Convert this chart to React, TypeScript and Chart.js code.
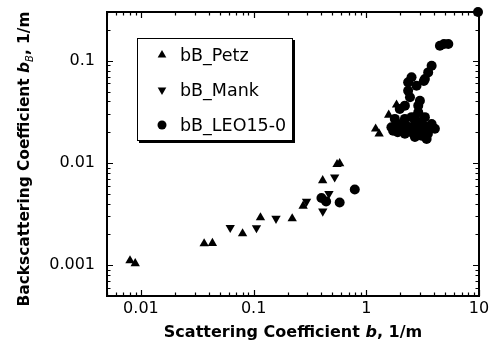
import { useEffect, useRef } from 'react';
import { Chart, registerables } from 'chart.js';

Chart.register(...registerables);

// ---- data ----
const seriesLabels = ['bB_Petz', 'bB_Mank', 'bB_LEO15-0'];

const petzX = [0.008, 0.0089, 0.0364, 0.0431, 0.0798, 0.115, 0.22, 0.275, 0.41, 0.55, 0.58, 1.21, 1.3, 1.58, 1.855];
const petzY = [0.00111, 0.00104, 0.00163, 0.00164, 0.00204, 0.00292, 0.00286, 0.0038, 0.00675, 0.0097, 0.0099, 0.0216, 0.0193, 0.0295, 0.037];

const mankX = [0.062, 0.106, 0.158, 0.295, 0.411, 0.466, 0.524];
const mankY = [0.00233, 0.00232, 0.00286, 0.0042, 0.00337, 0.005, 0.00728];

const leoX = [0.4, 0.44, 0.58, 0.79, 9.8, 4.5, 4.89, 5.34, 3.8, 3.54, 3.31, 3.24, 2.52, 2.35, 2.79, 2.35, 2.44, 2.99, 2.89, 2.2, 1.98, 1.79, 1.67, 2.05, 2.52, 2.89, 3.09, 3.8, 3.67, 2.52, 2.2, 3.09, 3.43, 1.73, 2.2, 2.7, 3.31, 1.9, 2.7, 4.06, 1.9, 2.33, 2.89, 3.52, 2.7, 3.31, 2.6, 3.0];
const leoY = [0.00455, 0.0042, 0.0041, 0.0055, 0.3, 0.14, 0.146, 0.146, 0.0894, 0.077, 0.0663, 0.0634, 0.0689, 0.0615, 0.057, 0.0509, 0.044, 0.0407, 0.0364, 0.0364, 0.0338, 0.027, 0.0224, 0.0232, 0.0281, 0.0314, 0.0251, 0.0241, 0.0216, 0.0207, 0.0193, 0.0185, 0.0172, 0.0207, 0.027, 0.0241, 0.0228, 0.02, 0.018, 0.0216, 0.0241, 0.0226, 0.0216, 0.0193, 0.0281, 0.0281, 0.0195, 0.0205];

const xTickValues = [0.01, 0.1, 1, 10];
const yTickValues = [0.001, 0.01, 0.1];
const xMin = 0.005;
const xMax = 10;
const yMin = 0.0005;
const yMax = 0.3;

const xTitleParts = [
  { text: 'Scattering Coefficient ', style: 'bold' },
  { text: 'b', style: 'italic bold' },
  { text: ', 1/m', style: 'bold' },
];
const yTitleParts = [
  { text: 'Backscattering Coefficient ', style: 'bold' },
  { text: 'b', style: 'italic bold' },
  { text: 'B', style: 'italic', sub: true },
  { text: ', 1/m', style: 'bold' },
];

const FONT = '"DejaVu Sans", sans-serif';

function toPts(xs: number[], ys: number[]) {
  return xs.map((x, i) => ({ x, y: ys[i] }));
}

function drawMarker(ctx: CanvasRenderingContext2D, kind: string, x: number, y: number, r: number) {
  ctx.beginPath();
  if (kind === 'circle') {
    ctx.arc(x, y, r, 0, Math.PI * 2);
  } else {
    const s = kind === 'up' ? 1 : -1;
    ctx.moveTo(x, y - s * r);
    ctx.lineTo(x + 0.866 * r, y + s * 0.5 * r);
    ctx.lineTo(x - 0.866 * r, y + s * 0.5 * r);
    ctx.closePath();
  }
  ctx.fill();
}

function drawParts(ctx: CanvasRenderingContext2D, parts: any[], cx: number, cy: number, size: number) {
  const fontFor = (p: any) => `${p.style} ${p.sub ? Math.round(size * 0.62) : size}px ${FONT}`;
  let total = 0;
  for (const p of parts) {
    ctx.font = fontFor(p);
    total += ctx.measureText(p.text).width;
  }
  let x = cx - total / 2;
  ctx.textBaseline = 'middle';
  ctx.textAlign = 'left';
  for (const p of parts) {
    ctx.font = fontFor(p);
    ctx.fillText(p.text, x, cy + (p.sub ? size * 0.35 : 0));
    x += ctx.measureText(p.text).width;
  }
}

const framePlugin = {
  id: 'frameTicks',
  beforeDatasetsDraw(chart: any) {
    const { ctx, chartArea: a, scales } = chart;
    const xs = scales.x;
    const ys = scales.y;
    ctx.save();
    ctx.strokeStyle = '#000';
    ctx.lineWidth = 1.2;
    ctx.beginPath();
    for (let d = -4; d <= 1; d++) {
      for (let m = 1; m <= 9; m++) {
        const v = m * Math.pow(10, d);
        const len = m === 1 ? 6 : 3.5;
        if (v >= xMin * 0.999 && v <= xMax * 1.001) {
          const px = Math.round(xs.getPixelForValue(v)) + 0.5;
          ctx.moveTo(px, a.bottom);
          ctx.lineTo(px, a.bottom - len);
          ctx.moveTo(px, a.top);
          ctx.lineTo(px, a.top + len);
        }
        if (v >= yMin * 0.999 && v <= yMax * 1.001) {
          const py = Math.round(ys.getPixelForValue(v)) + 0.5;
          ctx.moveTo(a.left, py);
          ctx.lineTo(a.left + len, py);
          ctx.moveTo(a.right, py);
          ctx.lineTo(a.right - len, py);
        }
      }
    }
    ctx.stroke();
    ctx.lineWidth = 2;
    ctx.strokeRect(a.left, a.top, a.right - a.left, a.bottom - a.top);
    ctx.restore();
  },
  afterDatasetsDraw(chart: any) {
    const { ctx, chartArea: a } = chart;
    ctx.save();
    ctx.fillStyle = '#000';
    // axis titles
    drawParts(ctx, xTitleParts, (a.left + a.right) / 2, 333, 16);
    ctx.save();
    ctx.translate(25, (a.top + a.bottom) / 2 + 5);
    ctx.rotate(-Math.PI / 2);
    drawParts(ctx, yTitleParts, 0, 0, 15.4);
    ctx.restore();

    // legend box
    const lx = a.left + 30;
    const ly = a.top + 26;
    const lw = 156;
    const lh = 103;
    ctx.fillStyle = '#000';
    ctx.fillRect(lx + 2, ly + 2, lw, lh);
    ctx.fillStyle = '#fff';
    ctx.fillRect(lx, ly, lw, lh);
    ctx.strokeStyle = '#000';
    ctx.lineWidth = 1;
    ctx.strokeRect(lx + 0.5, ly + 0.5, lw - 1, lh - 1);
    const kinds = ['up', 'down', 'circle'];
    ctx.font = `17.5px ${FONT}`;
    ctx.textBaseline = 'middle';
    ctx.textAlign = 'left';
    chart.data.datasets.forEach((ds: any, i: number) => {
      const ry = ly + 17 + i * 35;
      ctx.fillStyle = '#000';
      drawMarker(ctx, kinds[i], lx + 25, ry, kinds[i] === 'circle' ? 4.5 : 5);
      ctx.fillText(ds.label, lx + 43, ry + 1);
    });
    ctx.restore();
  },
};

export default function App() {
  const ref = useRef<HTMLCanvasElement | null>(null);
  useEffect(() => {
    if (!ref.current) return;
    const chart = new Chart(ref.current, {
      type: 'scatter',
      data: {
        datasets: [
          {
            label: seriesLabels[0],
            data: toPts(petzX, petzY),
            pointStyle: 'triangle',
            pointRadius: 5.4,
            backgroundColor: '#000',
            borderColor: '#000',
            borderWidth: 0,
            clip: false,
          },
          {
            label: seriesLabels[1],
            data: toPts(mankX, mankY),
            pointStyle: 'triangle',
            rotation: 180,
            pointRadius: 5.4,
            backgroundColor: '#000',
            borderColor: '#000',
            borderWidth: 0,
            clip: false,
          },
          {
            label: seriesLabels[2],
            data: toPts(leoX, leoY),
            pointStyle: 'circle',
            pointRadius: 5,
            backgroundColor: '#000',
            borderColor: '#000',
            borderWidth: 0,
            clip: false,
          },
        ] as any,
      },
      options: {
        animation: false,
        responsive: false,
        devicePixelRatio: 1,
        layout: { padding: { left: 0, top: 12, right: 13, bottom: 0 } },
        plugins: { legend: { display: false }, tooltip: { enabled: false } },
        scales: {
          x: {
            type: 'logarithmic',
            min: xMin,
            max: xMax,
            grid: { display: false, drawTicks: false },
            border: { display: false },
            afterBuildTicks: (axis: any) => {
              axis.ticks = xTickValues.map((v) => ({ value: v }));
            },
            afterFit: (scale: any) => {
              scale.height = 53;
              scale.paddingLeft = 0;
              scale.paddingRight = 0;
            },
            ticks: {
              autoSkip: false,
              maxRotation: 0,
              padding: 3,
              color: '#000',
              font: { family: FONT, size: 16 },
              callback: (v: any) => String(v),
            },
          },
          y: {
            type: 'logarithmic',
            min: yMin,
            max: yMax,
            grid: { display: false, drawTicks: false },
            border: { display: false },
            afterBuildTicks: (axis: any) => {
              axis.ticks = yTickValues.map((v) => ({ value: v }));
            },
            afterFit: (scale: any) => {
              scale.width = 107;
              scale.paddingTop = 0;
              scale.paddingBottom = 0;
            },
            ticks: {
              autoSkip: false,
              padding: 12,
              color: '#000',
              font: { family: FONT, size: 16 },
              callback: (v: any) => String(v),
            },
          },
        },
      } as any,
      plugins: [framePlugin],
    });
    return () => chart.destroy();
  }, []);
  return (
    <div style={{ position: 'absolute', left: 0, top: 0, width: 492, height: 349, background: '#fff' }}>
      <canvas ref={ref} width={492} height={349} />
    </div>
  );
}
